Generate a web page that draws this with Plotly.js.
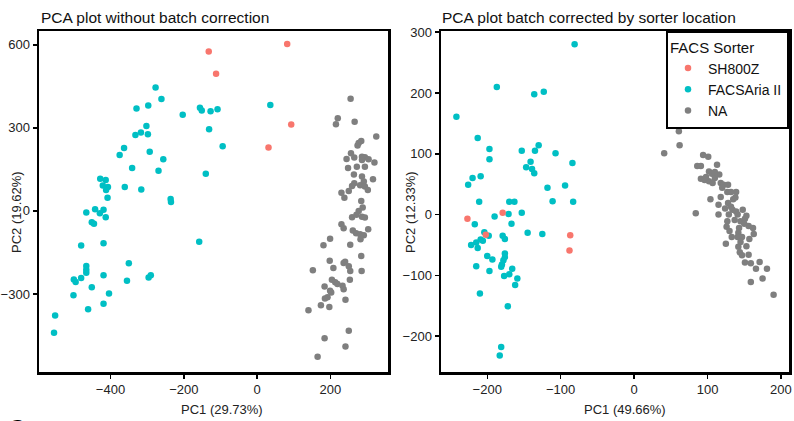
<!DOCTYPE html>
<html>
<head>
<meta charset="utf-8">
<script src="https://cdn.plot.ly/plotly-3.0.1.min.js"></script>
<style>html,body{margin:0;padding:0;background:#fff;}#chart{width:794px;height:421px;}</style>
</head>
<body>
<div id="chart"></div>
<script>
// ---------- Left panel: without batch correction ----------
const leftRedX = [-132, -112, 82, 93, 31];
const leftRedY = [576, 496, 603, 312, 229];

const leftCyanX = [-277, -261, -329, -297, -203, -156, -151, -127, -108, 36, -302, -317, -332, -298, -131, -94,
  -363, -375, -293, -256, -341, -269, -140, -428, -413, -421, -407, -412, -361, -316, -408, -236, -235,
  -466, -442, -429, -419, -413, -451, -445, -480, -419, -158, -466, -466, -466, -350, -500, -495, -480,
  -419, -355, -296, -290, -451, -404, -501, -419, -461, -551, -554];
const leftCyanY = [446, 404, 370, 381, 347, 373, 363, 360, 367, 383, 307, 283, 274, 277, 295, 234,
  227, 202, 214, 187, 155, 145, 134, 116, 112, 92, 86, 76, 86, 77, 48, 43, 32,
  -6, 6, -8, 4, -23, -41, -46, -125, -117, -111, -199, -213, -223, -189, -248, -257, -242,
  -232, -252, -241, -232, -276, -298, -305, -335, -355, -378, -440];

const leftGrayX = [255, 220, 215, 266, 325, 284, 277, 274, 256, 244, 265, 286, 294, 304, 248, 272, 294, 320, 286,
  264, 286, 316, 291, 265, 259, 281, 294, 302, 230, 250, 238, 284, 288, 277, 259, 271, 286, 294,
  230, 236, 261, 270, 281, 291, 282, 303, 199, 181, 254, 284, 198, 236, 240, 250, 152, 208, 254, 285,
  253, 204, 213, 219, 233, 236, 184, 199, 192, 185, 202, 241, 174, 197, 140, 250, 184, 241, 165];
const leftGrayY = [405, 335, 313, 322, 269, 253, 245, 236, 208, 188, 193, 196, 194, 187, 155, 160, 160, 175, 184,
  132, 124, 114, 106, 100, 90, 93, 88, 76, 66, 72, 48, 36, 12, 0, -23, -14, -21, -24,
  -48, -63, -71, -81, -84, -88, -102, -66, -101, -124, -122, -163, -180, -188, -184, -200, -214, -206, -217, -217,
  -249, -249, -258, -264, -270, -283, -273, -288, -312, -316, -295, -321, -341, -347, -359, -433, -460, -490, -527];

// ---------- Right panel: batch corrected by sorter location ----------
const rightRedX = [-227, -179, -202, -87, -88];
const rightRedY = [-7, 3, -33, -34, -59];

const rightCyanX = [-81, -187, -136, -123, -242, -213, -197, -197, -153, -135, -130, -107, -84, -141, -147, -139, -136,
  -220, -209, -226, -118, -94, -211, -170, -163, -111, -83, -190, -171, -153, -167, -217, -204, -198,
  -145, -125, -179, -176, -206, -209, -215, -222, -213, -176, -176, -178, -180, -181, -200, -193, -215,
  -197, -166, -170, -177, -159, -162, -210, -172, -181, -183];
const rightCyanY = [280, 210, 198, 202, 161, 126, 108, 91, 105, 105, 114, 101, 85, 87, 78, 75, 68,
  60, 63, 49, 44, 48, 21, 21, 21, 22, 21, -3, 1, 3, -15, -16, -29, -35,
  -30, -32, -35, -40, -43, -41, -46, -50, -55, -64, -70, -75, -82, -86, -68, -74, -85,
  -93, -89, -98, -101, -105, -116, -130, -151, -218, -232];

const rightGrayX = [61, 62, 41, 94, 101, 86, 91, 113, 102, 106, 91, 96, 102, 107, 116, 118, 122, 128, 104, 118, 127,
  132, 139, 115, 128, 132, 134, 139, 148, 129, 141, 153, 115, 84, 127, 137, 145, 151, 143, 156, 162,
  126, 130, 142, 163, 133, 141, 147, 157, 125, 142, 153, 144, 147, 156, 151, 159, 171, 166, 181, 159, 175, 190,
  98, 110, 120, 135, 124, 138, 150, 110, 145];
const rightGrayY = [137, 114, 101, 98, 95, 80, 80, 82, 71, 67, 59, 57, 55, 52, 66, 52, 49, 49, 25, 29, 37,
  37, 37, 16, 19, 13, 8, 5, 8, 0, 0, -2, 0, 2, -11, -9, -11, -7, -22, -19, -22,
  -20, -27, -30, -32, -37, -37, -37, -40, -48, -53, -52, -62, -67, -66, -79, -80, -78, -89, -89, -111, -105, -132,
  62, 60, 44, 25, 10, 28, -15, 70, -45];

// ---------- Labels ----------
const seriesNames = ["SH800Z", "FACSAria II", "NA"];
const seriesColors = ["#F8766D", "#00BFC4", "#7F7F7F"];
const panelTitles = ["PCA plot without batch correction", "PCA plot batch corrected by sorter location"];
const xTitles = ["PC1 (29.73%)", "PC1 (49.66%)"];
const yTitles = ["PC2 (19.62%)", "PC2 (12.33%)"];
const legendTitle = "FACS Sorter";
const leftXTicks = [-400, -200, 0, 200];
const leftYTicks = [-300, 0, 300, 600];
const rightXTicks = [-200, -100, 0, 100, 200];
const rightYTicks = [-200, -100, 0, 100, 200, 300];

const FONT = "Liberation Sans, Arial, sans-serif";
const MS = 6.5;

function pts(x, y, idx, xa, ya, showleg) {
  return {
    type: "scatter", mode: "markers", x: x, y: y, xaxis: xa, yaxis: ya,
    name: seriesNames[idx], legendgroup: seriesNames[idx], showlegend: showleg,
    legendrank: idx + 1,
    marker: {color: seriesColors[idx], size: MS, line: {width: 0}},
    hoverinfo: "x+y+name"
  };
}

const data = [
  pts(leftGrayX, leftGrayY, 2, "x", "y", false),
  pts(leftCyanX, leftCyanY, 1, "x", "y", false),
  pts(leftRedX, leftRedY, 0, "x", "y", false),
  pts(rightGrayX, rightGrayY, 2, "x2", "y2", true),
  pts(rightCyanX, rightCyanY, 1, "x2", "y2", true),
  pts(rightRedX, rightRedY, 0, "x2", "y2", true)
];

const W = 794, H = 421;
const yDom = [(H - 372) / H, (H - 31) / H];

function axis(extra) {
  return Object.assign({
    showgrid: false, zeroline: false, showline: true, mirror: true,
    linecolor: "#000", linewidth: 2.5, ticks: "outside", ticklen: 4, tickwidth: 1.5, tickcolor: "#000",
    tickfont: {family: FONT, size: 13, color: "#222"}, tickmode: "array",
    automargin: false
  }, extra);
}

function label(text, xpx, ypx, opts) {
  return Object.assign({
    text: text, xref: "paper", yref: "paper", x: xpx / W, y: (H - ypx) / H,
    xanchor: "center", yanchor: "middle", showarrow: false,
    font: {family: FONT, size: 13, color: "#222"}
  }, opts || {});
}

const layout = {
  width: W, height: H,
  margin: {l: 0, r: 0, t: 0, b: 0},
  paper_bgcolor: "#fff", plot_bgcolor: "#fff",
  font: {family: FONT, color: "#222"},
  showlegend: true,
  xaxis: axis({domain: [39 / W, 388 / W], range: [-595, 357], tickvals: leftXTicks, anchor: "y"}),
  yaxis: axis({domain: yDom, range: [-582, 650], tickvals: leftYTicks, anchor: "x"}),
  xaxis2: axis({domain: [441 / W, 789 / W], range: [-263, 211], tickvals: rightXTicks, anchor: "y2"}),
  yaxis2: axis({domain: yDom, range: [-259, 302], tickvals: rightYTicks, anchor: "x2"}),
  legend: {
    x: 789 / W, y: (H - 31) / H, xanchor: "right", yanchor: "top",
    bgcolor: "#fff", bordercolor: "#000", borderwidth: 2,
    font: {family: FONT, size: 14, color: "#111"},
    title: {text: legendTitle, font: {family: FONT, size: 15, color: "#111"}},
    itemwidth: 30, tracegroupgap: 0
  },
  annotations: [
    label(panelTitles[0], 39, 17, {xanchor: "left", font: {family: FONT, size: 15.5, color: "#111"}}),
    label(panelTitles[1], 440, 17, {xanchor: "left", font: {family: FONT, size: 15.5, color: "#111"}}),
    label(xTitles[0], 222, 409),
    label(xTitles[1], 625, 409),
    label(yTitles[0], 16, 212, {textangle: -90}),
    label(yTitles[1], 410, 212, {textangle: -90}),
    {text: "<b>C</b>", xref: "paper", yref: "paper", x: 7 / W, y: (H - 413) / H,
      xanchor: "left", yanchor: "top", showarrow: false, font: {family: FONT, size: 22, color: "#000"}}
  ]
};

Plotly.newPlot("chart", data, layout, {displayModeBar: false, staticPlot: true});
</script>
</body>
</html>
